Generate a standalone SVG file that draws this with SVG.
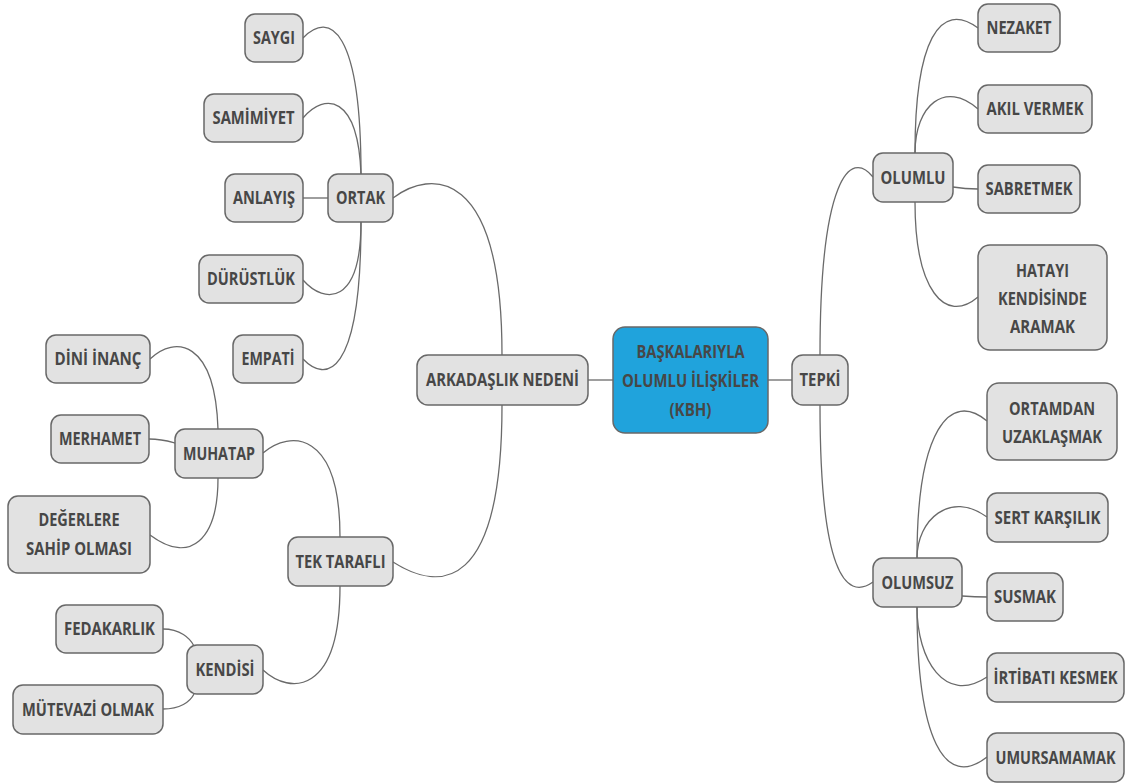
<svg xmlns="http://www.w3.org/2000/svg" width="1126" height="784" viewBox="0 0 1126 784">
<style>
.n rect{fill:#e2e2e2;stroke:#686868;stroke-width:1.5}
.c rect{fill:#20a3dc;stroke:#686868;stroke-width:1.5}
text{font-family:"Open Sans","Noto Sans","DejaVu Sans",sans-serif;font-weight:700;font-size:17px;fill:#474747;text-anchor:middle}
.e path{fill:none;stroke:#6a6a6a;stroke-width:1.3}
</style>
<rect width="1126" height="784" fill="#ffffff"/>
<g class="e" id="connectors">
<path d="M303,38 C330,10 361,30 361,174"/>
<path d="M303,118 C325,92 358,95 361,174"/>
<path d="M303,198 L328,198"/>
<path d="M303,280 C325,305 361,305 361,222"/>
<path d="M303,359 C325,382 361,380 361,222"/>
<path d="M393,198 C430,170 502,165 502,355"/>
<path d="M393,562 C440,592 502,592 502,405"/>
<path d="M588,380 L613,380"/>
<path d="M768,380 L792,380"/>
<path d="M820,355 C820,180 850,148 873,177"/>
<path d="M820,405 C820,570 845,602 873,582"/>
<path d="M915,153 C915,40 940,0 978,28"/>
<path d="M915,153 C915,105 945,80 978,109"/>
<path d="M953,187 C965,189 970,189 978,189"/>
<path d="M915,202 C915,290 945,325 978,297"/>
<path d="M917,558 C917,430 950,390 987,421"/>
<path d="M917,558 C917,520 950,490 987,517"/>
<path d="M962,596 C975,597 980,597 987,597"/>
<path d="M917,607 C917,660 945,705 987,677"/>
<path d="M917,607 C917,740 945,790 987,757"/>
<path d="M150,359 C175,335 215,340 218,429"/>
<path d="M149,439 C162,439 168,441 175,443"/>
<path d="M218,478 C218,540 190,565 150,535"/>
<path d="M263,453 C290,430 340,430 340,537"/>
<path d="M263,670 C290,695 340,695 340,586"/>
<path d="M163,629 C180,629 190,638 194,646"/>
<path d="M163,709 C180,709 190,702 194,694"/>
</g>
<g class="n" id="saygi"><rect x="245" y="14" width="58" height="48" rx="10"/><text x="274" y="44" textLength="42" lengthAdjust="spacingAndGlyphs">SAYGI</text></g>
<g class="n" id="samimiyet"><rect x="204" y="94" width="99" height="48" rx="10"/><text x="253.5" y="124" textLength="82" lengthAdjust="spacingAndGlyphs">SAMİMİYET</text></g>
<g class="n" id="anlayis"><rect x="225" y="174" width="78" height="48" rx="10"/><text x="264" y="204" textLength="62" lengthAdjust="spacingAndGlyphs">ANLAYIŞ</text></g>
<g class="n" id="ortak"><rect x="328" y="174" width="65" height="48" rx="10"/><text x="360.5" y="204" textLength="49" lengthAdjust="spacingAndGlyphs">ORTAK</text></g>
<g class="n" id="durustluk"><rect x="199" y="255" width="104" height="48" rx="10"/><text x="251" y="285" textLength="88" lengthAdjust="spacingAndGlyphs">DÜRÜSTLÜK</text></g>
<g class="n" id="empati"><rect x="233" y="335" width="70" height="48" rx="10"/><text x="268" y="365" textLength="53" lengthAdjust="spacingAndGlyphs">EMPATİ</text></g>
<g class="n" id="dini-inanc"><rect x="46" y="335" width="104" height="48" rx="10"/><text x="98" y="365" textLength="87" lengthAdjust="spacingAndGlyphs">DİNİ İNANÇ</text></g>
<g class="n" id="merhamet"><rect x="51" y="415" width="98" height="48" rx="10"/><text x="100" y="445" textLength="82" lengthAdjust="spacingAndGlyphs">MERHAMET</text></g>
<g class="n" id="muhatap"><rect x="175" y="429" width="88" height="49" rx="10"/><text x="219" y="459.5" textLength="72" lengthAdjust="spacingAndGlyphs">MUHATAP</text></g>
<g class="n" id="degerlere"><rect x="8" y="496" width="142" height="77" rx="10"/><text x="79" y="526" textLength="81" lengthAdjust="spacingAndGlyphs">DEĞERLERE</text><text x="79" y="555" textLength="106" lengthAdjust="spacingAndGlyphs">SAHİP OLMASI</text></g>
<g class="n" id="tek-tarafli"><rect x="288" y="537" width="105" height="49" rx="10"/><text x="340.5" y="567.5" textLength="90" lengthAdjust="spacingAndGlyphs">TEK TARAFLI</text></g>
<g class="n" id="fedakarlik"><rect x="56" y="605" width="107" height="48" rx="10"/><text x="109.5" y="635" textLength="91" lengthAdjust="spacingAndGlyphs">FEDAKARLIK</text></g>
<g class="n" id="kendisi"><rect x="187" y="645" width="76" height="49" rx="10"/><text x="225" y="675.5" textLength="59" lengthAdjust="spacingAndGlyphs">KENDİSİ</text></g>
<g class="n" id="mutevazi"><rect x="13" y="685" width="150" height="49" rx="10"/><text x="88" y="715.5" textLength="132" lengthAdjust="spacingAndGlyphs">MÜTEVAZİ OLMAK</text></g>
<g class="n" id="arkadaslik"><rect x="417" y="355" width="171" height="50" rx="11"/><text x="502.5" y="386" textLength="153" lengthAdjust="spacingAndGlyphs">ARKADAŞLIK NEDENİ</text></g>
<g class="c" id="center"><rect x="613" y="327" width="155" height="106" rx="12"/><text x="690.5" y="358" textLength="108" lengthAdjust="spacingAndGlyphs">BAŞKALARIYLA</text><text x="690.5" y="387" textLength="137" lengthAdjust="spacingAndGlyphs">OLUMLU İLİŞKİLER</text><text x="690.5" y="416" textLength="42" lengthAdjust="spacingAndGlyphs">(KBH)</text></g>
<g class="n" id="tepki"><rect x="792" y="355" width="56" height="50" rx="11"/><text x="820" y="386" textLength="41" lengthAdjust="spacingAndGlyphs">TEPKİ</text></g>
<g class="n" id="nezaket"><rect x="978" y="4" width="82" height="48" rx="10"/><text x="1019" y="34" textLength="65" lengthAdjust="spacingAndGlyphs">NEZAKET</text></g>
<g class="n" id="akil-vermek"><rect x="978" y="85" width="114" height="48" rx="10"/><text x="1035" y="115" textLength="97" lengthAdjust="spacingAndGlyphs">AKIL VERMEK</text></g>
<g class="n" id="olumlu"><rect x="873" y="153" width="80" height="49" rx="10"/><text x="913" y="183.5" textLength="65" lengthAdjust="spacingAndGlyphs">OLUMLU</text></g>
<g class="n" id="sabretmek"><rect x="978" y="165" width="102" height="48" rx="10"/><text x="1029" y="195" textLength="87" lengthAdjust="spacingAndGlyphs">SABRETMEK</text></g>
<g class="n" id="hatayi"><rect x="978" y="245" width="129" height="105" rx="12"/><text x="1042.5" y="277" textLength="53" lengthAdjust="spacingAndGlyphs">HATAYI</text><text x="1042.5" y="305" textLength="89" lengthAdjust="spacingAndGlyphs">KENDİSİNDE</text><text x="1042.5" y="333" textLength="65" lengthAdjust="spacingAndGlyphs">ARAMAK</text></g>
<g class="n" id="ortamdan"><rect x="987" y="383" width="130" height="77" rx="12"/><text x="1052" y="415" textLength="86" lengthAdjust="spacingAndGlyphs">ORTAMDAN</text><text x="1052" y="443" textLength="100" lengthAdjust="spacingAndGlyphs">UZAKLAŞMAK</text></g>
<g class="n" id="sert-karsilik"><rect x="987" y="493" width="121" height="49" rx="10"/><text x="1047.5" y="523.5" textLength="106" lengthAdjust="spacingAndGlyphs">SERT KARŞILIK</text></g>
<g class="n" id="olumsuz"><rect x="873" y="558" width="89" height="49" rx="10"/><text x="917.5" y="588.5" textLength="72" lengthAdjust="spacingAndGlyphs">OLUMSUZ</text></g>
<g class="n" id="susmak"><rect x="987" y="573" width="76" height="48" rx="10"/><text x="1025" y="603" textLength="62" lengthAdjust="spacingAndGlyphs">SUSMAK</text></g>
<g class="n" id="irtibati"><rect x="987" y="653" width="137" height="49" rx="10"/><text transform="translate(1055.5,683.5) scale(0.8,1)" x="0" y="0" textLength="155" lengthAdjust="spacingAndGlyphs">İRTİBATI KESMEK</text></g>
<g class="n" id="umursamamak"><rect x="987" y="733" width="137" height="49" rx="10"/><text transform="translate(1055.5,763.5) scale(0.8,1)" x="0" y="0" textLength="150" lengthAdjust="spacingAndGlyphs">UMURSAMAMAK</text></g>
</svg>
